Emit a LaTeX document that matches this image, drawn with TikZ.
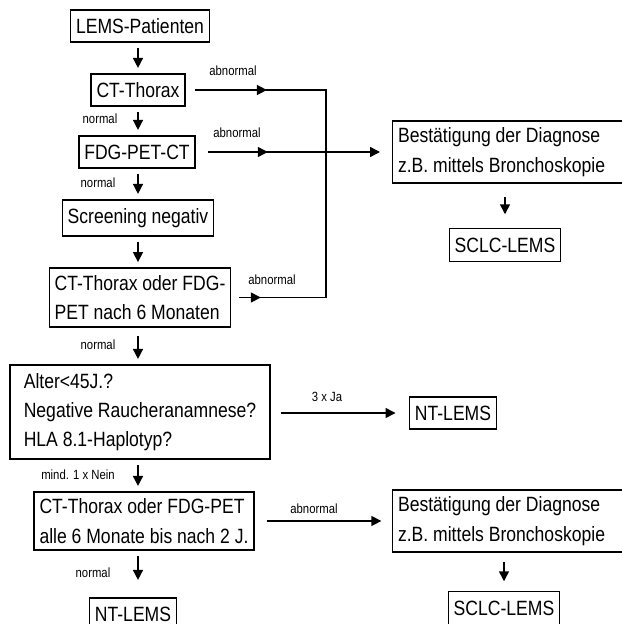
\documentclass[tikz,border=0pt]{standalone}
\usepackage{fontspec}
\setmainfont{Liberation Sans}[FakeStretch=0.85]
\usetikzlibrary{arrows.meta,decorations.markings}

\newcommand{\boxfont}{\fontsize{15.5}{22}\selectfont}
\newcommand{\labfont}{\fontsize{10}{11}\selectfont}

\tikzset{
  box/.style={draw, line width=1.1pt, inner xsep=4pt, inner ysep=3pt,
    minimum height=24pt, font=\boxfont, align=left},
  widebox/.style={box, align=flush left, text width=168pt, minimum height=46.5pt, anchor=west},
  lab/.style={font=\labfont, inner sep=1pt},
  line/.style={line width=1.1pt},
  arr/.style={line, -{Triangle[length=7.5pt,width=7.5pt]}, shorten <=4pt, shorten >=4pt},
  midarr/.style={postaction={decorate}, decoration={markings,
    mark=at position #1 with {\arrow{Triangle[length=7.5pt,width=7.5pt]}}}}
}

\begin{document}
\begin{tikzpicture}[x=0.75pt, y=-0.75pt]
	\useasboundingbox (0,0) rectangle (621,624);

	% left column
	\node[box] (pat) at (140,26) {LEMS-Patienten};
	\node[box] (ct) at (138,90) {CT-Thorax};
	\node[box] (pet) at (137,152) {FDG-PET-CT};
	\node[box, minimum height=27pt] (scr) at (138,218) {Screening negativ};
	\node[box, minimum height=44pt] (ct6) at (140,297.5) {CT-Thorax oder FDG-\\PET nach 6 Monaten};
	\node[box, minimum height=70.5pt, minimum width=195pt] (alter) at (140,412) {Alter<45J.?\\Negative Raucheranamnese?\\HLA 8.1-Haplotyp?};
	\node[box, minimum height=43.5pt] (ct2) at (144,521) {CT-Thorax oder FDG-PET\\alle 6 Monate bis nach 2 J.};
	\node[box] (nt1) at (133,614) {NT-LEMS};

	% right column
	\node[widebox] (bes1) at (392,152) {Bestätigung der Diagnose\\z.B. mittels Bronchoskopie};
	\node[box, minimum height=25pt] (sclc1) at (505,245) {SCLC-LEMS};
	\node[box] (nt2) at (453,413) {NT-LEMS};
	\node[widebox] (bes2) at (392,521) {Bestätigung der Diagnose\\z.B. mittels Bronchoskopie};
	\node[box, minimum height=25pt] (sclc2) at (504,608) {SCLC-LEMS};

	\coordinate (j1) at (326,90);
	\coordinate (j3) at (326,297.5);

	% downward arrows
	\draw[arr] (pat.south -| ct) -- (ct.north);
	\draw[arr] (ct) -- (pet.north -| ct);
	\draw[arr] (pet.south -| ct) -- (scr.north -| ct);
	\draw[arr] (scr.south -| ct) -- (ct6.north -| ct);
	\draw[arr, shorten <=6pt] (ct6.south -| ct) -- (alter.north -| ct);
	\draw[arr] (alter.south -| ct) -- (ct2.north -| ct);
	\draw[arr, shorten >=13pt] (ct2.south -| ct) -- (nt1.north -| ct);
	\draw[arr, shorten <=10pt, shorten >=10pt] (bes1.south -| sclc1) -- (sclc1.north);
	\draw[arr, shorten <=7pt, shorten >=7pt] (bes2.south -| sclc2) -- (sclc2.north);

	% abnormal lines
	\draw[line, shorten <=7pt, midarr=61pt] (ct.east) -- (j1) -- (j3);
	\draw[arr, shorten <=9pt, shorten >=9pt, midarr=54pt] (pet.east) -- (bes1.west);
	\draw[line, shorten <=6pt, midarr=22pt] (ct6.east) -- (j3);
	\draw[arr, shorten <=7.5pt, shorten >=10pt] (alter.east |- nt2) -- (nt2.west);
	\draw[arr, shorten <=9pt, shorten >=8pt] (ct2.east) -- (bes2.west);

	% labels
	\node[lab] (l1) at (233,71) {abnormal};
	\node[lab] (l2) at (237,133) {abnormal};
	\node[lab] (l3) at (272,280) {abnormal};
	\node[lab] (l4) at (314,509) {abnormal};
	\node[lab] (n1) at (100,119) {normal};
	\node[lab] (n2) at (98,183) {normal};
	\node[lab] (n3) at (98,345) {normal};
	\node[lab] (n4) at (93,573) {normal};
	\node[lab] (m1) at (78,475) {mind. 1 x Nein};
	\node[lab] (j) at (327,397) {3 x Ja};
\end{tikzpicture}
\end{document}
